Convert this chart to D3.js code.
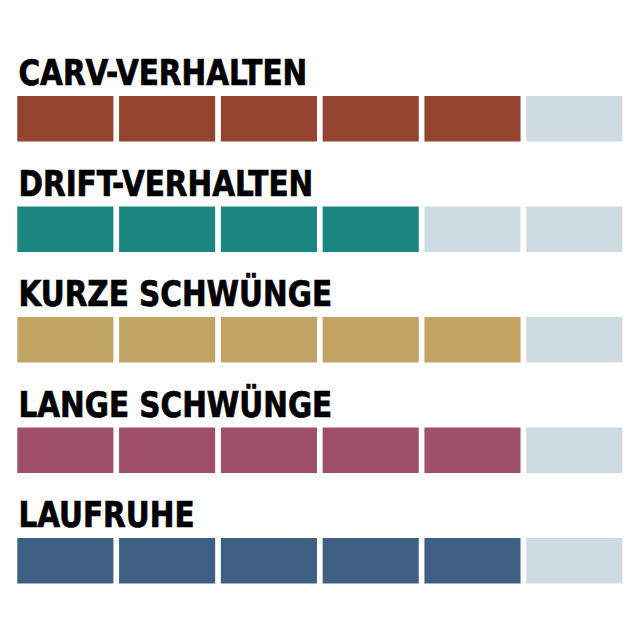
<!DOCTYPE html>
<html lang="de">
<head>
    <meta charset="UTF-8">
    <title>Fahreigenschaften</title>
    <script src="https://d3js.org/d3.v7.min.js"></script>
    <style>
        body{ margin:0; background:#fff; }
        .title{
            fill:#000;
            stroke:#000;
            stroke-width:0.7px;
            font-family:"DejaVu Sans Condensed", "DejaVu Sans", sans-serif;
            font-weight:bold;
            font-size:36px;
        }
    </style>
</head>
<body>
<svg id="main" width="640" height="640"></svg>
<script>
    // values: filled blocks out of 6
    let categories = ['CARV-VERHALTEN', 'DRIFT-VERHALTEN', 'KURZE SCHWÜNGE', 'LANGE SCHWÜNGE', 'LAUFRUHE'];
    let ratings = [5, 4, 5, 5, 5];
    let maxRating = 6;
    let colors = ['#94432f', '#1b8580', '#c1a464', '#a04f69', '#3e5e84'];
    let emptyColor = '#cfdbe3';

    let svg = d3.select('svg#main');

    let yScale = d3.scaleBand()
        .domain(categories)
        .range([40, 592.5])
        .paddingInner(0)
        .paddingOuter(0);

    let xScale = d3.scaleBand()
        .domain(d3.range(maxRating))
        .range([17.3, 622.3])
        .paddingInner(0.056)
        .paddingOuter(0);

    let rows = svg.selectAll('g.row')
        .data(categories)
        .enter()
        .append('g')
        .attr('class', 'row')
        .attr('transform', function(d){return 'translate(0,' + yScale(d) + ')';});

    rows.append('text')
        .attr('class', 'title')
        .attr('transform', 'translate(18.5,45) scale(0.91,1)')
        .text(function(d){return d;});

    rows.selectAll('rect')
        .data(function(d, i){
            return d3.range(maxRating).map(function(k){return {k: k, on: k < ratings[i], c: colors[i]};});
        })
        .enter()
        .append('rect')
        .attr('x', function(d){return xScale(d.k);})
        .attr('y', 56)
        .attr('width', xScale.bandwidth())
        .attr('height', 45.5)
        .style('fill', function(d){return d.on ? d.c : emptyColor;});
</script>
</body>
</html>
